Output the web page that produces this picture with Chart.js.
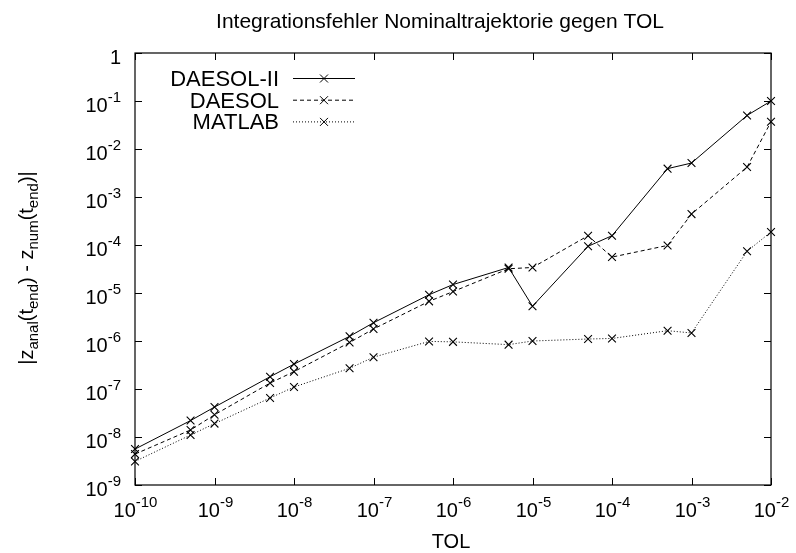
<!DOCTYPE html>
<html>
<head>
<meta charset="utf-8">
<script src="https://cdn.jsdelivr.net/npm/chart.js@4/dist/chart.umd.min.js"></script>
<style>
  body { margin: 0; background: #fff; }
  #errorChart { display: block; }
</style>
</head>
<body>
<canvas id="errorChart" width="796" height="553"></canvas>
<script>
const tolValues = [1e-10, 5e-10, 1e-9, 5e-9, 1e-8, 5e-8, 1e-7, 5e-7, 1e-6, 5e-6, 1e-5, 5e-5, 1e-4, 5e-4, 1e-3, 5e-3, 1e-2];
const daesolIIValues = [5.6e-9, 2.2e-8, 4.2e-8, 1.8e-7, 3.3e-7, 1.25e-6, 2.4e-6, 9.2e-6, 1.5e-5, 3.4e-5, 5.3e-6, 9.4e-5, 1.56e-4, 3.9e-3, 5.1e-3, 5.0e-2, 1.0e-1];
const daesolValues = [4.4e-9, 1.4e-8, 2.9e-8, 1.33e-7, 2.3e-7, 9.3e-7, 1.78e-6, 6.7e-6, 1.07e-5, 3.2e-5, 3.4e-5, 1.56e-4, 5.6e-5, 9.8e-5, 4.4e-4, 4.2e-3, 3.7e-2];
const matlabValues = [3.1e-9, 1.1e-8, 1.9e-8, 6.5e-8, 1.1e-7, 2.7e-7, 4.6e-7, 9.8e-7, 9.6e-7, 8.4e-7, 1.0e-6, 1.1e-6, 1.13e-6, 1.64e-6, 1.47e-6, 7.4e-5, 1.87e-4];

const seriesNames = ['DAESOL-II', 'DAESOL', 'MATLAB'];
const seriesDashes = [[], [4, 3], [1, 2]];
const xTickExponents = [-10, -9, -8, -7, -6, -5, -4, -3, -2];
const yTickExponents = [-9, -8, -7, -6, -5, -4, -3, -2, -1, 0];

const chartTitle = 'Integrationsfehler Nominaltrajektorie gegen TOL';
const xTitle = 'TOL';

const FONT = '"Liberation Sans", Arial, Helvetica, sans-serif';
const mainFont = `20px ${FONT}`;
const supFont = `15px ${FONT}`;

const toPoints = (values) => tolValues.map((t, i) => ({x: t, y: values[i]}));

const makeDataset = (label, values, dash) => ({
  label: label,
  data: toPoints(values),
  borderColor: '#000',
  borderWidth: 1,
  borderDash: dash,
  pointStyle: 'crossRot',
  pointRadius: 5.5,
  pointBorderWidth: 1.1,
  pointBorderColor: '#000',
  pointBackgroundColor: '#000',
  fill: false,
  tension: 0,
  clip: false,
});

// draws "10" with a raised exponent, anchored by align ('center' or 'right')
const drawPower = (ctx, exp, x, baseline, align) => {
  if (exp === 0) {
    ctx.font = mainFont;
    ctx.textAlign = align;
    ctx.fillText('1', x, baseline);
    return;
  }
  ctx.font = mainFont;
  const baseW = ctx.measureText('10').width;
  ctx.font = supFont;
  const expText = String(exp);
  const expW = ctx.measureText(expText).width;
  const total = baseW + expW;
  const left = align === 'center' ? x - total / 2 : x - total;
  ctx.textAlign = 'left';
  ctx.font = mainFont;
  ctx.fillText('10', left, baseline);
  ctx.font = supFont;
  ctx.fillText(expText, left + baseW, baseline - 10);
};

// y axis title with subscripts, rotated
const drawYTitle = (ctx, cx, cy) => {
  const parts = [
    ['|z', false], ['anal', true], ['(t', false], ['end', true], [') - z', false],
    ['num', true], ['(t', false], ['end', true], [')|', false],
  ];
  const widths = parts.map(([txt, sub]) => {
    ctx.font = sub ? supFont : mainFont;
    return ctx.measureText(txt).width;
  });
  const total = widths.reduce((a, b) => a + b, 0);
  ctx.save();
  ctx.translate(cx, cy);
  ctx.rotate(-Math.PI / 2);
  ctx.textAlign = 'left';
  let pos = -total / 2;
  parts.forEach(([txt, sub], i) => {
    ctx.font = sub ? supFont : mainFont;
    ctx.fillText(txt, pos, sub ? 5 : 0);
    pos += widths[i];
  });
  ctx.restore();
};

const gnuplotFrame = {
  id: 'gnuplotFrame',
  afterDraw: (chart) => {
    const ctx = chart.ctx;
    const area = chart.chartArea;
    const xScale = chart.scales.x;
    const yScale = chart.scales.y;
    ctx.save();
    ctx.strokeStyle = '#000';
    ctx.fillStyle = '#000';
    ctx.lineWidth = 1.2;
    ctx.setLineDash([]);
    ctx.strokeRect(area.left, area.top, area.right - area.left, area.bottom - area.top);

    const tickLen = 7;
    ctx.lineWidth = 1;
    ctx.textBaseline = 'alphabetic';
    xTickExponents.forEach((e) => {
      const px = Math.round(xScale.getPixelForValue(Math.pow(10, e))) + 0.5;
      ctx.beginPath();
      ctx.moveTo(px, area.bottom);
      ctx.lineTo(px, area.bottom - tickLen);
      ctx.moveTo(px, area.top);
      ctx.lineTo(px, area.top + tickLen);
      ctx.stroke();
      drawPower(ctx, e, px, area.bottom + 32, 'center');
    });
    yTickExponents.forEach((e) => {
      const py = Math.round(yScale.getPixelForValue(Math.pow(10, e))) + 0.5;
      ctx.beginPath();
      ctx.moveTo(area.left, py);
      ctx.lineTo(area.left + tickLen, py);
      ctx.moveTo(area.right, py);
      ctx.lineTo(area.right - tickLen, py);
      ctx.stroke();
      drawPower(ctx, e, area.left - 14, py + 10, 'right');
    });

    // titles
    ctx.font = `21px ${FONT}`;
    ctx.textAlign = 'center';
    ctx.fillText(chartTitle, 440, 28);
    ctx.font = mainFont;
    ctx.fillText(xTitle, 451, 548);
    drawYTitle(ctx, 33, 268);

    // key
    chart.data.datasets.forEach((ds, i) => {
      const ly = 78 + i * 21.7;
      ctx.font = `22px ${FONT}`;
      ctx.textAlign = 'right';
      ctx.fillText(ds.label, 279, ly + 8);
      ctx.setLineDash(seriesDashes[i]);
      ctx.beginPath();
      ctx.moveTo(293, ly + 0.5);
      ctx.lineTo(355, ly + 0.5);
      ctx.stroke();
      ctx.setLineDash([]);
      ctx.beginPath();
      ctx.moveTo(320, ly - 3.5);
      ctx.lineTo(328, ly + 4.5);
      ctx.moveTo(328, ly - 3.5);
      ctx.lineTo(320, ly + 4.5);
      ctx.stroke();
    });
    ctx.restore();
  }
};

const errorChart = new Chart(document.getElementById('errorChart').getContext('2d'), {
  type: 'line',
  data: {
    datasets: [
      makeDataset(seriesNames[0], daesolIIValues, seriesDashes[0]),
      makeDataset(seriesNames[1], daesolValues, seriesDashes[1]),
      makeDataset(seriesNames[2], matlabValues, seriesDashes[2]),
    ],
  },
  options: {
    responsive: false,
    animation: false,
    devicePixelRatio: 1,
    layout: { padding: { top: 53, left: 0, right: 25, bottom: 0 } },
    plugins: {
      legend: { display: false },
      title: { display: false },
      tooltip: { enabled: false },
    },
    scales: {
      x: {
        type: 'logarithmic',
        min: 1e-10,
        max: 1e-2,
        grid: { display: false },
        border: { display: false },
        ticks: { display: false },
        afterFit: (scale) => { scale.height = 68; },
      },
      y: {
        type: 'logarithmic',
        min: 1e-9,
        max: 1,
        grid: { display: false },
        border: { display: false },
        ticks: { display: false },
        afterFit: (scale) => { scale.width = 135; },
      },
    },
  },
  plugins: [gnuplotFrame],
});
</script>
</body>
</html>
